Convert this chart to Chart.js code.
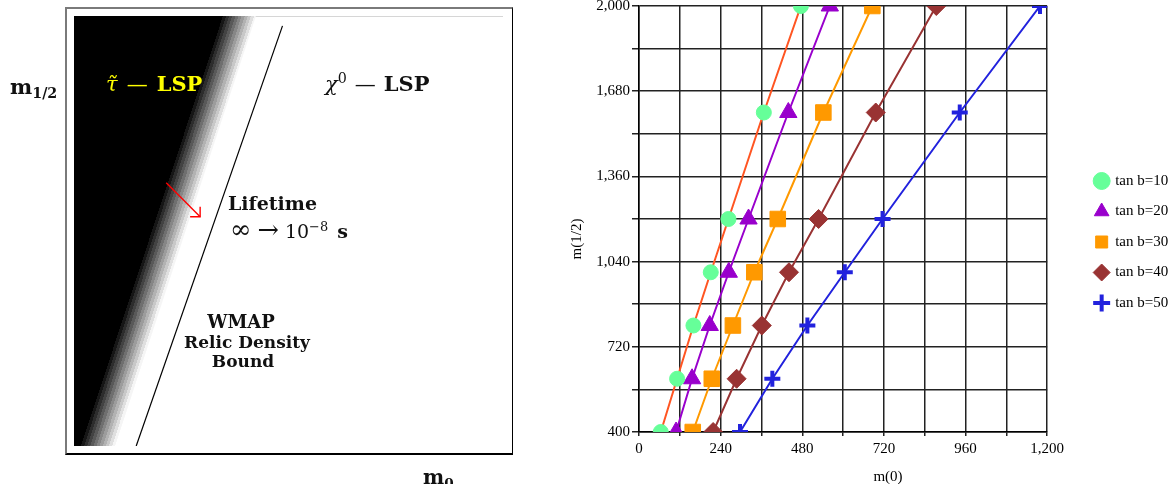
<!DOCTYPE html>
<html>
<head>
<meta charset="utf-8">
<title>m0 - m1/2 plane</title>
<script src="https://cdn.jsdelivr.net/npm/chart.js@4.4.1/dist/chart.umd.min.js"></script>
<style>
    html, body { margin: 0; padding: 0; background: #fff; overflow: hidden; }
    body { width: 1174px; height: 484px; position: relative; }
    #sketch { position: absolute; left: 0; top: 0; }
    #scan { position: absolute; left: 560px; top: 0; }
    .frame {
        position: absolute; left: 65px; top: 7px; width: 448px; height: 448px;
        box-sizing: border-box; pointer-events: none;
        border-left: 2px solid #7a7a7a; border-top: 2px solid #7a7a7a;
        border-right: 1.5px solid #000; border-bottom: 2px solid #000;
    }
    .tx { position: absolute; font-family: "DejaVu Serif", serif; line-height: 1; white-space: nowrap; color: #111; }
    .b { font-weight: bold; }
    .it { font-style: italic; font-weight: normal; }
    .rm { font-weight: normal; }
    .tx sub, .tx sup { line-height: 0; font-size: 0.68em; }
    .tx sub { vertical-align: -0.28em; }
    .tx sup { vertical-align: 0.55em; }
    .c { text-align: center; width: 160px; }
    .big { font-size: 1.35em; line-height: 0; }
</style>
</head>
<body>
<canvas id="sketch" width="560" height="484"></canvas>
<div class="frame"></div>
<canvas id="scan" width="618" height="484"></canvas>

<div class="tx b" style="left:10px;top:76px;font-size:21px">m<sub>1/2</sub></div>
<div class="tx" style="left:106px;top:73px;font-size:21px;color:#ff0"><span class="it">τ̃</span><span class="rm" style="margin:0 9px">—</span><span class="b">LSP</span></div>
<div class="tx" style="left:325px;top:73px;font-size:21px"><span class="it">χ</span><sup class="rm">0</sup><span class="rm" style="margin:0 8px">—</span><span class="b">LSP</span></div>
<div class="tx b" style="left:228px;top:194px;font-size:19px">Lifetime</div>
<div class="tx" style="left:230px;top:222px;font-size:19px"><span class="big">∞</span> <span class="big">→</span> 10<sup>−8</sup> <span class="b" style="margin-left:3px">s</span></div>
<div class="tx b c" style="left:161px;top:313px;font-size:18px">WMAP</div>
<div class="tx b c" style="left:167px;top:334px;font-size:17px">Relic Density</div>
<div class="tx b c" style="left:163px;top:353px;font-size:17px">Bound</div>
<div class="tx b" style="left:423px;top:467px;font-size:20px">m<sub>0</sub></div>

<script>
// Left sketch: unit square, m0 along x, m1/2 along y
var bandBlackEdge = [{x: 0.009, y: 0}, {x: 0.340, y: 1}];
var bandWhiteEdge = [{x: 0.096, y: 0}, {x: 0.424, y: 1}];
var boundaryLine = [{x: 0.145, y: 0}, {x: 0.486, y: 0.977}];
var arrowPath = [{x: 0.215, y: 0.612}, {x: 0.294, y: 0.533}];
var bandSteps = 12;

// Right chart: m(0) against m(1/2) for each tan b
var seriesNames = ['tan b=10', 'tan b=20', 'tan b=30', 'tan b=40', 'tan b=50'];
var m12 = [400, 600, 800, 1000, 1200, 1600, 2000];
var m0Tb10 = [64, 112, 160, 211, 263, 367, 476];
var m0Tb20 = [109, 156, 208, 264, 322, 439, 561];
var m0Tb30 = [158, 214, 276, 339, 408, 542, 686];
var m0Tb40 = [218, 287, 361, 441, 528, 696, 874];
var m0Tb50 = [297, 392, 495, 605, 716, 943, 1179];
var xLabels = [0, 240, 480, 720, 960, 1200];
var yLabels = [400, 720, 1040, 1360, 1680, 2000];
var xTitle = 'm(0)';
var yTitle = 'm(1/2)';

// Stepped grey ramp across the stau band, perpendicular to its edge
function bandGradient(chart) {
    var xs = chart.scales.x, ys = chart.scales.y;
    if (!xs || !chart.chartArea) {
        return '#000';
    }
    var x0 = xs.getPixelForValue(bandBlackEdge[0].x), y0 = ys.getPixelForValue(bandBlackEdge[0].y);
    var x1 = xs.getPixelForValue(bandBlackEdge[1].x), y1 = ys.getPixelForValue(bandBlackEdge[1].y);
    var wx = xs.getPixelForValue(bandWhiteEdge[0].x);
    var len = Math.hypot(x1 - x0, y1 - y0);
    var nx = -(y1 - y0) / len, ny = (x1 - x0) / len;
    var depth = (wx - x0) * nx;
    var g = chart.ctx.createLinearGradient(x0, y0, x0 + nx * depth, y0 + ny * depth);
    for (var i = 0; i < bandSteps; i++) {
        var v = Math.round(245 * i / (bandSteps - 1));
        var col = 'rgb(' + v + ',' + v + ',' + v + ')';
        g.addColorStop(i / bandSteps, col);
        g.addColorStop((i + 1) / bandSteps - 0.0001, col);
    }
    g.addColorStop(1, '#fff');
    return g;
}

var sketchExtras = {
    id: 'sketchExtras',
    beforeDatasetsDraw: function (chart) {
        var ctx = chart.ctx, area = chart.chartArea;
        ctx.save();
        ctx.strokeStyle = '#d6d6d6';
        ctx.lineWidth = 1;
        ctx.beginPath();
        ctx.moveTo(area.left, area.top + 0.5);
        ctx.lineTo(area.right, area.top + 0.5);
        ctx.stroke();
        ctx.restore();
    },
    afterDatasetsDraw: function (chart) {
        var ctx = chart.ctx;
        chart.data.datasets.forEach(function (ds, i) {
            if (!ds.arrowHead) {
                return;
            }
            var pts = chart.getDatasetMeta(i).data;
            var tip = pts[pts.length - 1], prev = pts[pts.length - 2];
            var a = Math.atan2(tip.y - prev.y, tip.x - prev.x);
            ctx.save();
            ctx.strokeStyle = ds.borderColor;
            ctx.lineWidth = ds.borderWidth;
            ctx.beginPath();
            ctx.moveTo(tip.x + 10 * Math.cos(a + Math.PI * 0.75), tip.y + 10 * Math.sin(a + Math.PI * 0.75));
            ctx.lineTo(tip.x, tip.y);
            ctx.lineTo(tip.x + 10 * Math.cos(a - Math.PI * 0.75), tip.y + 10 * Math.sin(a - Math.PI * 0.75));
            ctx.stroke();
            ctx.restore();
        });
    }
};

new Chart(document.getElementById('sketch'), {
    type: 'scatter',
    data: {
        datasets: [
            {
                data: [{x: 0, y: 0}, bandWhiteEdge[0], bandWhiteEdge[1]],
                order: 3,
                showLine: true,
                fill: 'end',
                borderWidth: 0,
                borderColor: 'rgba(0,0,0,0)',
                pointRadius: 0,
                backgroundColor: function (c) { return bandGradient(c.chart); }
            },
            {
                data: boundaryLine,
                order: 2,
                showLine: true,
                borderColor: '#000',
                borderWidth: 1.2,
                pointRadius: 0
            },
            {
                data: arrowPath,
                order: 1,
                showLine: true,
                arrowHead: true,
                borderColor: '#ff0000',
                borderWidth: 1.4,
                pointRadius: 0
            }
        ]
    },
    options: {
        responsive: false,
        animation: false,
        events: [],
        layout: { autoPadding: false, padding: { left: 74, top: 16, right: 57, bottom: 38 } },
        plugins: { legend: { display: false }, tooltip: { enabled: false } },
        scales: {
            x: { type: 'linear', min: 0, max: 1, display: false },
            y: { type: 'linear', min: 0, max: 1, display: false }
        }
    },
    plugins: [sketchExtras]
});

// Right chart
Chart.defaults.font.family = '"Liberation Serif", "Times New Roman", serif';
Chart.defaults.color = '#000';

var axisTitles = {
    id: 'axisTitles',
    afterDraw: function (chart) {
        var ctx = chart.ctx, area = chart.chartArea;
        ctx.save();
        ctx.font = '15px "Liberation Serif"';
        ctx.fillStyle = '#000';
        ctx.textAlign = 'center';
        ctx.textBaseline = 'middle';
        ctx.fillText(xTitle, area.left + 249, chart.height - 7);
        ctx.translate(area.left - 62, (area.top + area.bottom) / 2 + 20);
        ctx.rotate(-Math.PI / 2);
        ctx.fillText(yTitle, 0, 0);
        ctx.restore();
    }
};

function toPoints(xs) {
    return xs.map(function (x, i) { return {x: x, y: m12[i]}; });
}

var series = [
    {values: m0Tb10, line: '#ff5522', fill: '#66ff99', shape: 'circle', size: 7.5},
    {values: m0Tb20, line: '#9900cc', fill: '#9900cc', shape: 'triangle', size: 10},
    {values: m0Tb30, line: '#ff9900', fill: '#ff9900', shape: 'rect', size: 11},
    {values: m0Tb40, line: '#993333', fill: '#993333', shape: 'rectRot', size: 9.5},
    {values: m0Tb50, line: '#2222dd', fill: '#2222dd', shape: 'cross', size: 8}
];

var datasets = series.map(function (s, i) {
    return {
        label: seriesNames[i],
        data: toPoints(s.values),
        borderColor: s.line,
        borderWidth: 2,
        backgroundColor: s.fill,
        pointStyle: s.shape,
        pointRadius: s.size,
        pointBackgroundColor: s.fill,
        pointBorderColor: s.fill,
        pointBorderWidth: s.shape === 'cross' ? 4 : 1,
        showLine: true,
        tension: 0
    };
});

new Chart(document.getElementById('scan'), {
    type: 'scatter',
    data: { datasets: datasets },
    options: {
        responsive: false,
        animation: false,
        events: [],
        layout: { autoPadding: false, padding: { left: 31, top: 0, right: 0, bottom: 0 } },
        plugins: {
            tooltip: { enabled: false },
            legend: {
                position: 'right',
                labels: {
                    usePointStyle: true,
                    boxWidth: 12,
                    boxHeight: 12,
                    padding: 15.5,
                    color: '#000',
                    font: { size: 15 }
                }
            }
        },
        scales: {
            x: {
                type: 'linear',
                min: 0,
                max: 1200,
                afterFit: function (s) { s.height = 52; },
                ticks: {
                    stepSize: 120,
                    autoSkip: false,
                    maxRotation: 0,
                    padding: 4,
                    font: { size: 15 },
                    callback: function (v) { return xLabels.indexOf(v) >= 0 ? v.toLocaleString('en-US') : ''; }
                },
                grid: { color: '#222', lineWidth: 1.5, tickLength: 4 },
                border: { color: '#000', width: 1.5 }
            },
            y: {
                type: 'linear',
                min: 400,
                max: 2000,
                afterFit: function (s) { s.width = 48; s.paddingTop = 6; s.paddingBottom = 0; },
                ticks: {
                    stepSize: 160,
                    autoSkip: false,
                    padding: 2,
                    font: { size: 15 },
                    callback: function (v) { return yLabels.indexOf(v) >= 0 ? v.toLocaleString('en-US') : ''; }
                },
                grid: { color: '#222', lineWidth: 1.5, tickLength: 7 },
                border: { color: '#000', width: 1.5 }
            },
            gap: {
                type: 'linear',
                position: 'right',
                display: true,
                grid: { display: false },
                ticks: { display: false },
                border: { display: false },
                afterFit: function (s) { s.width = 33; }
            }
        }
    },
    plugins: [axisTitles]
});
</script>
</body>
</html>
